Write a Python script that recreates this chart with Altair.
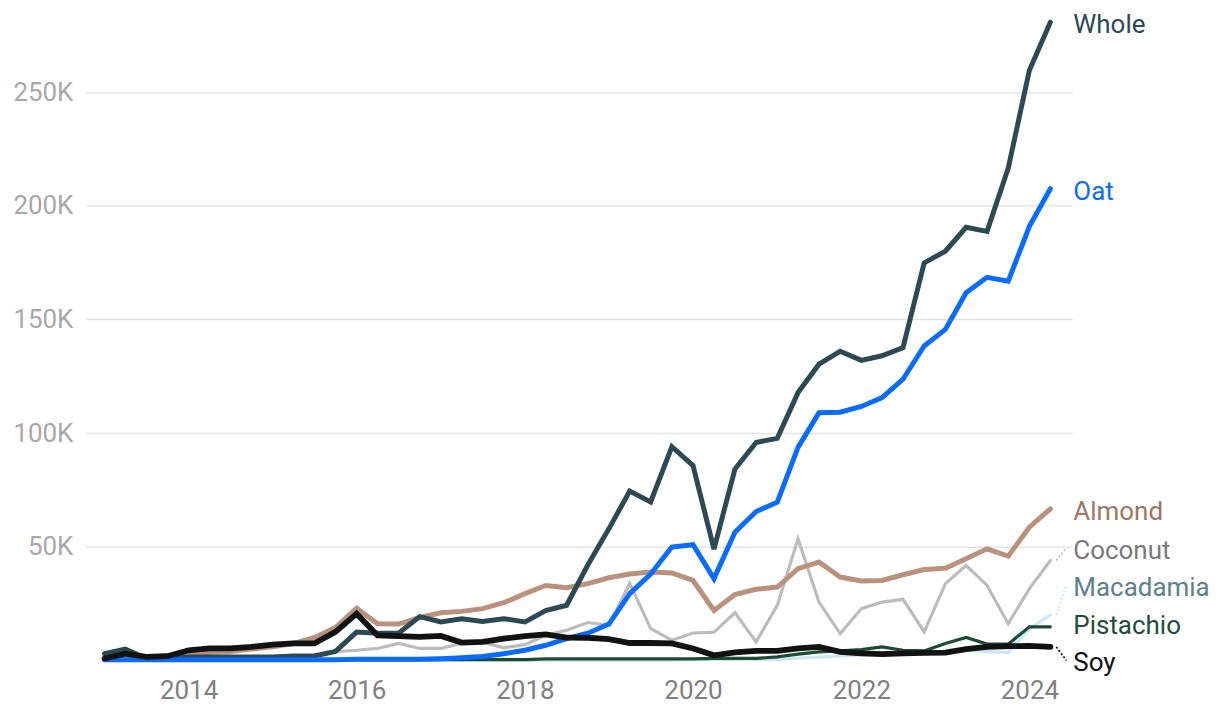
import altair as alt
import pandas as pd

# Quarterly dates, Q1 2013 .. Q2 2024
quarters = pd.date_range("2013-01-01", "2024-04-01", freq="QS").strftime("%Y-%m-%d").tolist()

series_names = ["Macadamia", "Coconut", "Pistachio", "Almond", "Whole", "Oat", "Soy"]

# values in thousands
whole = [3, 5, 1, 1, 1.5, 1.5, 1.5, 1.5, 1.5, 2, 2, 4, 12.5, 12, 12, 19.3, 17, 18.4, 17.2, 18.4,
         17, 22, 24.3, 42, 58, 74.5, 69.7, 94, 85.7, 49, 84.2, 95.9, 97.7, 117.8, 130.3, 136,
         132, 134, 137.6, 174.9, 180, 190.5, 188.7, 216.5, 259.6, 280.7]
oat = [0.3, 0.3, 0.3, 0.3, 0.3, 0.3, 0.3, 0.3, 0.3, 0.3, 0.3, 0.3, 0.5, 0.5, 0.5, 0.5, 0.8, 1.2, 1.8, 3,
       4.5, 6.7, 9.6, 12, 16, 29.4, 38, 49.9, 50.9, 36, 56.4, 65.5, 69.6, 93.7, 109, 109.2,
       111.7, 115.6, 123.7, 138.3, 145.6, 161.7, 168.5, 166.8, 190.9, 207.5]
almond = [0.5, 1, 1.5, 2, 3, 3.5, 4, 5, 6, 7.5, 10, 14.5, 23, 16.2, 16, 19, 21, 21.6, 22.8, 25.4,
          29.4, 33, 32, 33.8, 36.4, 38, 38.9, 38.5, 35.2, 22, 29, 31.3, 32.3, 40.4, 43.3, 36.7,
          35, 35.2, 37.7, 40, 40.6, 44.7, 49.1, 45.9, 58.6, 66.7]
coconut = [0.5, 0.5, 0.5, 0.5, 1, 1, 1, 1, 1.5, 1.5, 2, 3.9, 4.5, 5.3, 7.5, 5.3, 5.3, 7.5, 8, 5.6,
           7, 11.1, 13.3, 16.7, 15.5, 34, 14, 8.9, 12.1, 12.5, 21, 8.2, 24.3, 53.5, 25.7, 11.8,
           22.8, 25.7, 26.9, 12.6, 33.8, 41.8, 33, 16.2, 31.6, 44]
pistachio = [0.2, 0.2, 0.2, 0.2, 0.2, 0.2, 0.2, 0.2, 0.2, 0.2, 0.2, 0.4, 0.4, 0.4, 0.4, 0.4, 0.4, 0.4, 0.4, 0.4,
             0.4, 0.7, 0.7, 0.7, 0.7, 0.7, 0.7, 0.7, 0.7, 0.9, 0.9, 0.9, 1.6, 2.8, 3.8, 4.2,
             4.8, 6, 4.5, 4.2, 7.5, 10.1, 7.2, 7.2, 14.8, 14.8]
macadamia = [0.1] * 28 + [0.5, 0.5, 0.5, 0.5, 0.5, 1, 1.5, 2, 2.5, 3, 3, 3.5, 4, 4.5, 4, 3.5, 14, 20]
soy = [0.9, 3, 1.6, 1.9, 4.5, 5.3, 5.3, 6, 7, 7.5, 7.5, 12.6, 20.6, 11, 10.7, 10.4, 10.8, 7.9, 8.2, 9.6,
       10.7, 11.5, 10.1, 10, 9.4, 7.7, 7.7, 7.5, 5.3, 2.3, 3.6, 4.2, 4.2, 5.3, 6, 3.8,
       3.1, 2.8, 3.1, 3.4, 3.5, 5, 6, 6.3, 6.4, 6]

values = {"Whole": whole, "Oat": oat, "Almond": almond, "Coconut": coconut,
          "Pistachio": pistachio, "Macadamia": macadamia, "Soy": soy}

style = {
    "Whole":     {"line": "#2d4a54", "label": "#2d4a54", "w": 5},
    "Oat":       {"line": "#0a6cff", "label": "#0a6cff", "w": 5},
    "Almond":    {"line": "#b9917d", "label": "#9d7664", "w": 5},
    "Coconut":   {"line": "#bcbcbc", "label": "#7a7a7a", "w": 3.2},
    "Pistachio": {"line": "#1c4a35", "label": "#1e4d39", "w": 3.2},
    "Macadamia": {"line": "#c9e7f6", "label": "#5e808b", "w": 3.2},
    "Soy":       {"line": "#121212", "label": "#121212", "w": 5.8},
}

# simple label dodging (data units, thousands), kept above the baseline
def dodge(last, gap=16.5, lo=0.0):
    names = sorted(last, key=lambda n: last[n])
    pos = dict(last)
    for _ in range(800):
        for a, b in zip(names[:-1], names[1:]):
            d = pos[b] - pos[a]
            if d < gap:
                s = (gap - d) / 2
                pos[a] -= s
                pos[b] += s
        for n in names:
            pos[n] = max(pos[n], lo)
    return pos

last_vals = {n: v[-1] for n, v in values.items()}
label_pos = dodge(last_vals)

x_scale = alt.Scale(type="utc",
                    domain=[alt.DateTime(year=2012, month=10, date=12, utc=True),
                            alt.DateTime(year=2024, month=7, date=5, utc=True)])
y_scale = alt.Scale(domain=[0, 284500], nice=False, zero=True)

x_axis = alt.Axis(values=[alt.DateTime(year=y, month=1, date=1, utc=True) for y in range(2014, 2025, 2)],
                  format="%Y", grid=False, domain=False, ticks=False, tickSize=0,
                  labelFont="Roboto", labelFontSize=26, labelColor="#808080", labelPadding=17,
                  title=None)
y_axis = alt.Axis(values=[50000, 100000, 150000, 200000, 250000],
                  labelExpr="datum.value / 1000 + 'K'", grid=True, gridColor="#e4e4e4",
                  gridWidth=1.5, domain=False, ticks=False, tickSize=0,
                  labelFont="Roboto", labelFontSize=26, labelColor="#a8a8a8", labelPadding=13,
                  title=None)

layers = []
for name in series_names:
    df = pd.DataFrame({"date": quarters, "value": [v * 1000 for v in values[name]]})
    st = style[name]
    line = alt.Chart(df).mark_line(color=st["line"], strokeWidth=st["w"], strokeCap="round").encode(
        x=alt.X("date:T", scale=x_scale, axis=x_axis),
        y=alt.Y("value:Q", scale=y_scale, axis=y_axis),
    )
    layers.append(line)

for name in series_names:
    st = style[name]
    ldf = pd.DataFrame({"date": [quarters[-1]], "value": [last_vals[name] * 1000],
                        "lab": [label_pos[name] * 1000], "name": [name]})
    if abs(label_pos[name] - last_vals[name]) > 2:
        rule = alt.Chart(ldf).mark_rule(color=st["line"], strokeWidth=1.6, strokeDash=[2, 2],
                                        xOffset=6, x2Offset=16).encode(
            x=alt.X("date:T", scale=x_scale, axis=x_axis),
            x2="date:T",
            y=alt.Y("value:Q", scale=y_scale, axis=y_axis),
            y2="lab:Q",
        )
        layers.append(rule)
    text = alt.Chart(ldf).mark_text(align="left", baseline="middle", dx=23, dy=3, font="Roboto",
                                    fontSize=26, color=st["label"]).encode(
        x=alt.X("date:T", scale=x_scale, axis=x_axis),
        y=alt.Y("lab:Q", scale=y_scale, axis=y_axis),
        text="name:N",
    )
    layers.append(text)

chart = alt.layer(*layers).properties(
    width=988, height=648,
    autosize=alt.AutoSizeParams(type="none"),
    padding={"left": 78, "top": 5, "right": 140, "bottom": 50},
).configure_view(stroke=None)

chart.save("out.html", embed_options={"renderer": "svg", "actions": False})
